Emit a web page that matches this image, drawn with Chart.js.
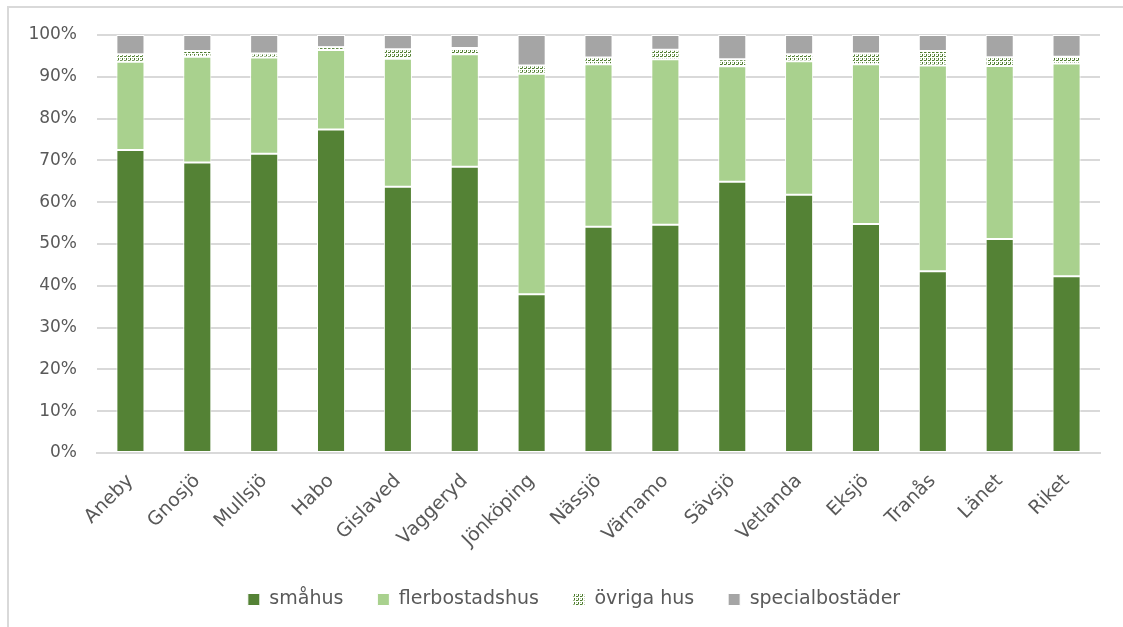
<!DOCTYPE html>
<html>
<head>
<meta charset="utf-8">
<script src="https://cdn.jsdelivr.net/npm/chart.js@4/dist/chart.umd.min.js"></script>
<style>
  html, body { margin: 0; padding: 0; background: #fff; }
  #wrap { position: relative; width: 1123px; height: 627px; }
  #frame { position: absolute; left: 7px; top: 6px; right: -10px; bottom: -10px; border: 2px solid #D9D9D9; box-sizing: border-box; }
  canvas { position: absolute; left: 0; top: 0; }
</style>
</head>
<body>
<div id="wrap">
  <div id="frame"></div>
  <canvas id="c" width="1123" height="627"></canvas>
</div>
<script>
const categories = ['Aneby','Gnosjö','Mullsjö','Habo','Gislaved','Vaggeryd','Jönköping','Nässjö','Värnamo','Sävsjö','Vetlanda','Eksjö','Tranås','Länet','Riket'];
const smahus = [72.5, 69.5, 71.6, 77.4, 63.7, 68.5, 38.0, 54.1, 54.6, 64.9, 61.8, 54.8, 43.5, 51.2, 42.3];
const flerbostadshus = [21.1, 25.3, 23.0, 19.0, 30.6, 26.9, 52.7, 38.9, 39.6, 27.6, 31.9, 38.2, 49.2, 41.4, 50.9];
const ovrigaHus = [1.8, 1.4, 1.0, 0.7, 2.3, 1.5, 2.0, 1.6, 2.3, 1.7, 1.7, 2.6, 3.5, 2.1, 1.6];
const specialbostader = [4.6, 3.8, 4.4, 2.9, 3.4, 3.1, 7.3, 5.4, 3.5, 5.8, 4.6, 4.4, 3.8, 5.3, 5.2];
const seriesNames = ['småhus', 'flerbostadshus', 'övriga hus', 'specialbostäder'];
const yTicks = [0, 10, 20, 30, 40, 50, 60, 70, 80, 90, 100];

function dotPattern() {
  const pc = document.createElement('canvas');
  pc.width = 4; pc.height = 4;
  const g = pc.getContext('2d');
  g.fillStyle = '#ffffff';
  g.fillRect(0, 0, 4, 4);
  g.fillStyle = '#4E7A30';
  g.fillRect(0, 0, 2, 1);
  g.fillRect(2, 2, 1, 2);
  g.fillStyle = '#A9C98F';
  g.fillRect(2, 0, 1, 1);
  g.fillRect(0, 2, 1, 1);
  return g.createPattern(pc, 'repeat');
}

const FONT = "'DejaVu Sans', sans-serif";
const TXT = '#595959';

const ds = (label, data, color) => ({
  label, data, backgroundColor: color,
  borderColor: '#ffffff', borderWidth: 1, borderSkipped: false,
  barPercentage: 0.42, categoryPercentage: 1.0
});

const legendShift = {
  id: 'legendShift',
  afterLayout(chart) {
    if (chart.legend) { chart.legend.left += 24; chart.legend.right += 24; }
  }
};

new Chart(document.getElementById('c'), {
  type: 'bar',
  data: {
    labels: categories,
    datasets: [
      ds(seriesNames[0], smahus, '#548235'),
      ds(seriesNames[1], flerbostadshus, '#A9D18E'),
      ds(seriesNames[2], ovrigaHus, dotPattern()),
      ds(seriesNames[3], specialbostader, '#A5A5A5')
    ]
  },
  plugins: [legendShift],
  options: {
    responsive: false,
    animation: false,
    devicePixelRatio: 1,
    layout: { padding: { top: 35, right: 23, left: 0, bottom: 8 } },
    plugins: {
      tooltip: { enabled: false },
      legend: {
        position: 'bottom',
        labels: {
          color: TXT,
          font: { family: FONT, size: 19 },
          boxWidth: 12, boxHeight: 12,
          padding: 34,
          useBorderRadius: false
        }
      }
    },
    scales: {
      x: {
        stacked: true,
        grid: { display: false, drawTicks: false },
        border: { display: true, color: '#D9D9D9', width: 2 },
        ticks: {
          color: TXT, font: { family: FONT, size: 19 },
          maxRotation: 45, minRotation: 45, padding: 17, autoSkip: false
        },
        afterFit: (s) => { s.height = 103; }
      },
      y: {
        stacked: true,
        min: 0, max: 100,
        afterBuildTicks: (s) => { s.ticks = yTicks.map(v => ({ value: v })); },
        grid: { color: '#D9D9D9', lineWidth: 2, drawTicks: false },
        border: { display: false },
        ticks: {
          color: TXT, font: { family: FONT, size: 17 }, padding: 20,
          callback: (v) => v + '%'
        },
        afterFit: (s) => { s.width = 97; }
      }
    }
  }
});
</script>
</body>
</html>
